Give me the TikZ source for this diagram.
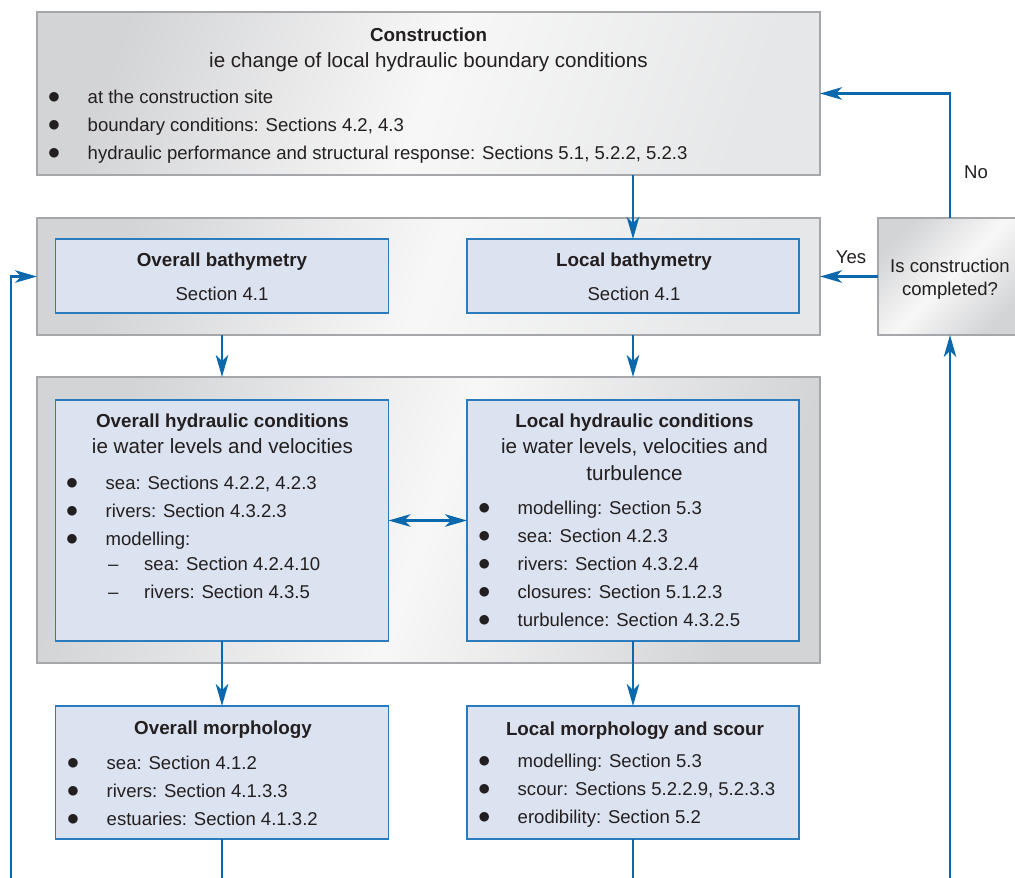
\documentclass[tikz,border=0pt]{standalone}
\usepackage{fontspec}
\setmainfont{Liberation Sans}
\newfontfamily\dotfont{DejaVu Sans}
\usetikzlibrary{arrows.meta,calc}
\definecolor{fblue}{HTML}{0B68AD}
\definecolor{boxblue}{HTML}{DCE3F0}
\definecolor{edgeblue}{HTML}{2B7BBF}
\definecolor{txt}{HTML}{231F20}
\definecolor{outergray}{HTML}{A5A7AA}
\definecolor{shadegray}{HTML}{D3D4D6}
\definecolor{lightgray2}{HTML}{E6E7E8}
\newcommand\myBul{\fontsize{18.55}{22}\selectfont}
\newcommand\myTtl{\fontsize{18.8}{22}\selectfont\bfseries}
\newcommand\mySub{\fontsize{20.6}{24}\selectfont}
\newcommand\bitem[1]{\makebox[0pt][c]{\raisebox{3pt}{\dotfont\fontsize{12.5}{12.5}\selectfont ●}}\hspace{33.5pt}#1}
\newcommand\ditem[1]{\makebox[0pt][c]{–}\hspace{31pt}#1}
\begin{document}
\begin{tikzpicture}[x=1pt,y=-1pt,
  outerbox/.style={draw=outergray, line width=1.3pt, inner sep=0pt, outer sep=0pt},
  gshade/.style={left color=shadegray, right color=#1, middle color=white!97!black, shading angle=70},
  innerbox/.style={draw=edgeblue, line width=1.2pt, fill=boxblue, inner sep=0pt, outer sep=0pt},
  ttl/.style={inner sep=0pt, anchor=mid, yshift=-3.5pt, text=txt, font=\myTtl},
  sub/.style={inner sep=0pt, anchor=mid, yshift=-3.5pt, text=txt, font=\mySub},
  bl/.style={inner sep=0pt, anchor=mid west, yshift=-3.5pt, text=txt, font=\myBul},
  plain/.style={inner sep=0pt, anchor=mid, yshift=-3.5pt, text=txt, font=\myBul},
  line/.style={draw=fblue, line width=2.5pt},
  arr/.style={line, -{Stealth[length=22pt,width=12.5pt,inset=6pt]}},
  darr/.style={line, {Stealth[length=22pt,width=12.5pt,inset=6pt]}-{Stealth[length=22pt,width=12.5pt,inset=6pt]}}
]
\useasboundingbox (0,0) rectangle (1015,878);
\fill[white] (0,0) rectangle (1015,878);

% boxes
\node[outerbox, gshade=lightgray2, minimum width=783pt, minimum height=163pt] (con) at (428.5,93.5) {};
\node[outerbox, gshade=lightgray2, minimum width=783pt, minimum height=117pt] (bathout) at (428.5,276.5) {};
\node[outerbox, gshade=shadegray, minimum width=783pt, minimum height=286pt] (hydout) at (428.5,520) {};
\node[outerbox, gshade=shadegray, shading angle=45, minimum width=144pt, minimum height=117pt] (dec) at (950,276.5) {};
\node[innerbox, minimum width=333pt, minimum height=74pt] (obath) at (222,276) {};
\node[innerbox, minimum width=332pt, minimum height=74pt] (lbath) at (633,276) {};
\node[innerbox, minimum width=333pt, minimum height=241pt] (ohyd) at (222,520.5) {};
\node[innerbox, minimum width=332pt, minimum height=241pt] (lhyd) at (633,520.5) {};
\node[innerbox, minimum width=333pt, minimum height=133pt] (omorph) at (222,772.5) {};
\node[innerbox, minimum width=332pt, minimum height=133pt] (lmorph) at (633,772.5) {};

% construction texts
\node[ttl] (conT) at (428.5,35) {Construction};
\node[sub] (conS) at (428.5,61) {ie change of local hydraulic boundary conditions};
\node[bl] (con1) at (54,97) {\bitem{at the construction site}};
\node[bl] (con2) at (54,125) {\bitem{boundary conditions: Sections 4.2, 4.3}};
\node[bl] (con3) at (54,153) {\bitem{hydraulic performance and structural response: Sections 5.1, 5.2.2, 5.2.3}};

% bathymetry texts
\node[ttl] (obT) at (222,260) {Overall bathymetry};
\node[plain] (obS) at (222,294) {Section 4.1};
\node[ttl] (lbT) at (634,260) {Local bathymetry};
\node[plain] (lbS) at (634,294) {Section 4.1};

% decision texts
\node[plain] (dec1) at (950,266) {Is construction};
\node[plain] (dec2) at (950,289) {completed?};
\node[plain] (yes) at (851,257) {Yes};
\node[plain] (no) at (976,172) {No};

% overall hydraulic
\node[ttl] (ohT) at (222.5,421) {Overall hydraulic conditions};
\node[sub] (ohS) at (222.5,447) {ie water levels and velocities};
\node[bl] (oh1) at (72,483) {\bitem{sea: Sections 4.2.2, 4.2.3}};
\node[bl] (oh2) at (72,511) {\bitem{rivers: Section 4.3.2.3}};
\node[bl] (oh3) at (72,539) {\bitem{modelling:}};
\node[bl] (oh4) at (113,564) {\ditem{sea: Section 4.2.4.10}};
\node[bl] (oh5) at (113,592) {\ditem{rivers: Section 4.3.5}};

% local hydraulic
\node[ttl] (lhT) at (634.5,421) {Local hydraulic conditions};
\node[sub] (lhS1) at (634.5,447) {ie water levels, velocities and};
\node[sub] (lhS2) at (634.5,474) {turbulence};
\node[bl] (lh1) at (484,508) {\bitem{modelling: Section 5.3}};
\node[bl] (lh2) at (484,536) {\bitem{sea: Section 4.2.3}};
\node[bl] (lh3) at (484,564) {\bitem{rivers: Section 4.3.2.4}};
\node[bl] (lh4) at (484,592) {\bitem{closures: Section 5.1.2.3}};
\node[bl] (lh5) at (484,620) {\bitem{turbulence: Section 4.3.2.5}};

% overall morphology
\node[ttl] (omT) at (223,728) {Overall morphology};
\node[bl] (om1) at (73,763) {\bitem{sea: Section 4.1.2}};
\node[bl] (om2) at (73,791) {\bitem{rivers: Section 4.1.3.3}};
\node[bl] (om3) at (73,819) {\bitem{estuaries: Section 4.1.3.2}};

% local morphology
\node[ttl] (lmT) at (635,729) {Local morphology and scour};
\node[bl] (lm1) at (484,761) {\bitem{modelling: Section 5.3}};
\node[bl] (lm2) at (484,789) {\bitem{scour: Sections 5.2.2.9, 5.2.3.3}};
\node[bl] (lm3) at (484,817) {\bitem{erodibility: Section 5.2}};

% connectors
\coordinate (botL) at (11,882);
\coordinate (botR) at (950,882);
\draw[arr] (lbath.north |- con.south) -- (lbath.north);
\draw[arr] (obath.south |- bathout.south) -- (obath.south |- hydout.north);
\draw[arr] (lbath.south |- bathout.south) -- (lbath.south |- hydout.north);
\draw[arr] (ohyd.south) -- (omorph.north);
\draw[arr] (lhyd.south) -- (lmorph.north);
\draw[darr] (ohyd.east) -- (lhyd.west);
\draw[line] (omorph.south) -- (omorph.south |- botL);
\draw[line] (lmorph.south) -- (lmorph.south |- botL);
\draw[arr] (botL) |- (bathout.west);
\draw[arr] (botR) -- (dec.south);
\draw[arr] (dec.north) |- (con.east);
\draw[arr] (dec.west) -- (bathout.east);
\end{tikzpicture}
\end{document}
